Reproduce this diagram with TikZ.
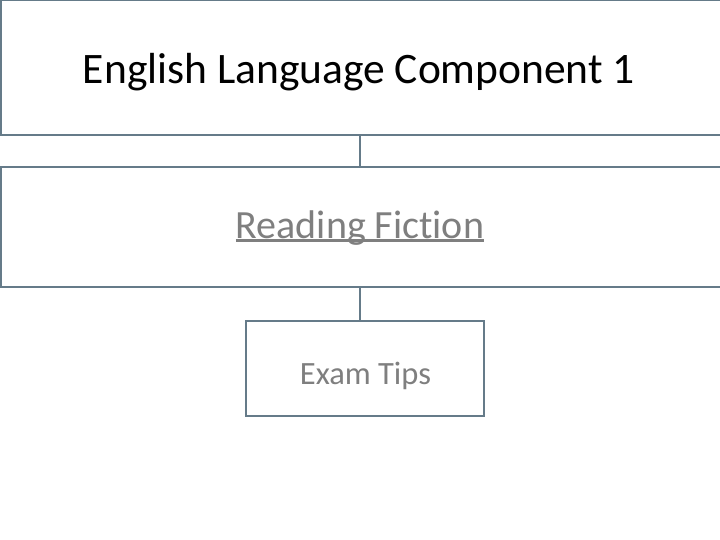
\documentclass[tikz,border=0pt]{standalone}
\usepackage{fontspec}
\setmainfont{Carlito}[Ligatures=CommonOff]
\usetikzlibrary{positioning}
\definecolor{boxline}{HTML}{657B89}
\definecolor{softgrey}{HTML}{7F7F7F}
\newcommand{\ulined}[1]{\setbox0\hbox{#1}\rlap{\rule[-0.09em]{\wd0}{0.055em}}\box0}
\begin{document}
\begin{tikzpicture}
[   x=1pt,y=1pt,
    tbox/.style={draw=boxline,line width=1.4pt,fill=white,inner sep=0pt,outer sep=0pt},
    link/.style={draw=boxline,line width=1.4pt},
    ttext/.style={anchor=base,inner sep=0pt,font=\fontsize{#1}{#1}\selectfont},
]
    \useasboundingbox (0,0) rectangle (720,-540);
    \clip (0,0) rectangle (720,-540);
    \coordinate (spine) at (360,0);

    % top level
    \node[tbox,minimum width=760pt,minimum height=135pt] (comp) at (381,-67.5) {};
    \node[ttext=43.5] (comptxt) at (359,-83.3) {English Language Component 1};

    % second level
    \node[tbox,minimum width=760pt,minimum height=120pt] (read) at (381,-227) {};
    \node[ttext=40,text=softgrey] (readtxt) at (360,-238) {\ulined{Reading Fiction}};

    % leaf
    \node[tbox,minimum width=238pt,minimum height=95pt] (exam) at (365,-368.5) {};
    \node[ttext=32.5,text=softgrey] (examtxt) at (365.5,-384) {Exam Tips};

    \draw[link] (comp.south -| spine) -- (read.north -| spine);
    \draw[link] (read.south -| spine) -- (exam.north -| spine);
\end{tikzpicture}
\end{document}
